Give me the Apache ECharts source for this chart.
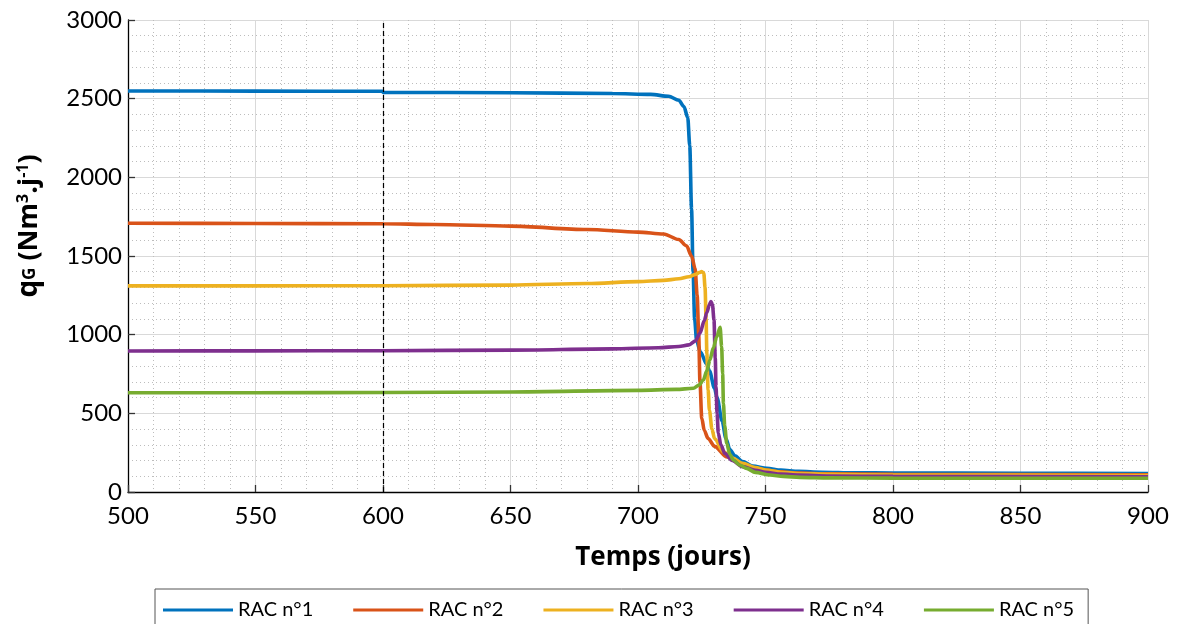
<!DOCTYPE html>
<html>
<head>
<meta charset="utf-8">
<script src="https://cdn.jsdelivr.net/npm/echarts@6/dist/echarts.min.js"></script>
<style>
  html, body { margin: 0; padding: 0; background: #fff; }
  #chart { width: 1181px; height: 624px; }
</style>
</head>
<body>
<div id="chart"></div>
<script>
// series names
const names = ['RAC n°1', 'RAC n°2', 'RAC n°3', 'RAC n°4', 'RAC n°5'];
const colors = ['#0072BD', '#D95319', '#EDB120', '#7E2F8E', '#77AC30'];

// RAC n°1
const days1 = [500, 550, 599.9, 600, 650, 690, 705, 712, 716, 718, 719.5, 720.3, 721, 721.6, 722.2, 723, 724.5, 727, 728, 730, 731, 733, 734.5, 736, 738, 741, 745, 750.5, 756, 763, 772, 785, 800, 850, 900];
const vals1 = [2549, 2548, 2547, 2540, 2538, 2533, 2527, 2515, 2490, 2450, 2380, 2200, 1800, 1400, 1100, 960, 890, 810, 770, 660, 600, 450, 340, 270, 230, 193, 165, 150, 139, 131, 126, 122, 121, 119, 118];

// RAC n°2
const days2 = [500, 550, 600, 620, 650, 680, 700, 710, 716, 719, 721, 722.4, 723.2, 723.8, 724.3, 725, 726, 727.5, 730, 735, 741, 746, 750, 756, 763, 775, 800, 900];
const vals2 = [1708, 1707, 1705, 1700, 1690, 1668, 1652, 1640, 1605, 1565, 1500, 1420, 1250, 1000, 700, 470, 390, 340, 290, 222, 172, 152, 140, 128, 120, 115, 112, 110];

// RAC n°3
const days3 = [500, 550, 600, 650, 680, 700, 710, 716, 720, 722.5, 724, 725, 725.8, 726.3, 726.7, 727, 727.5, 728, 729, 730, 733.5, 737, 741, 746, 750, 756, 763, 775, 800, 900];
const vals3 = [1310, 1310, 1311, 1315, 1325, 1337, 1345, 1355, 1368, 1382, 1395, 1401, 1390, 1300, 1100, 880, 650, 520, 400, 340, 256, 215, 182, 155, 140, 126, 118, 112, 108, 105];

// RAC n°4
const days4 = [500, 550, 600, 650, 690, 708, 716, 720, 722.5, 724.3, 726, 727, 728, 728.6, 729.2, 729.8, 730.3, 730.6, 731, 731.5, 732.5, 734, 737, 741, 746, 750, 756, 763, 775, 800, 900];
const vals4 = [896, 897, 898, 902, 910, 917, 925, 935, 960, 1009, 1090, 1140, 1190, 1210, 1190, 1093, 850, 670, 500, 373, 300, 246, 200, 161, 138, 125, 114, 108, 102, 99, 97];

// RAC n°5
const days5 = [500, 550, 600, 650, 700, 715, 721.7, 724, 725.6, 727, 728.2, 729.5, 730.9, 732.2, 732.8, 733.2, 733.5, 734, 734.8, 736, 737.4, 740, 742.6, 746, 751.8, 757, 763.5, 775, 800, 900];
const vals5 = [631, 631, 632, 636, 646, 652, 659, 680, 712, 770, 839, 915, 987, 1047, 924, 750, 564, 420, 310, 240, 203, 170, 150, 125, 108, 99, 93, 90, 88, 87];

// axes
const xMin = 500, xMax = 900, xStep = 50;
const yMin = 0, yMax = 3000, yStep = 500;
const markerDay = 600;

const allDays = [days1, days2, days3, days4, days5];
const allVals = [vals1, vals2, vals3, vals4, vals5];

const font = 'Lato, "Open Sans", sans-serif';
const boldFont = '"Open Sans", Lato, sans-serif';

const series = names.map((n, k) => {
  const s = {
    name: n,
    type: 'line',
    symbol: 'none',
    smooth: 0.3,
    smoothMonotone: 'x',
    lineStyle: { width: 3.6, color: colors[k] },
    itemStyle: { color: colors[k] },
    data: allDays[k].map((d, i) => [d, allVals[k][i]])
  };
  if (k === 0) {
    s.markLine = {
      silent: true,
      symbol: 'none',
      label: { show: false },
      lineStyle: { color: '#000', type: [5, 3], width: 1.2 },
      data: [{ xAxis: markerDay }]
    };
  }
  return s;
});

const chart = echarts.init(document.getElementById('chart'));
chart.setOption({
  animation: false,
  backgroundColor: '#fff',
  grid: { left: 128, right: 33, top: 20, bottom: 132 },
  legend: {
    data: names,
    left: 155,
    top: 589,
    icon: 'rect',
    itemWidth: 70,
    itemHeight: 3,
    itemGap: 40,
    padding: [11, 14, 14, 8],
    borderColor: '#555',
    borderWidth: 1,
    textStyle: { fontSize: 20, fontFamily: font, color: '#000' }
  },
  xAxis: {
    type: 'value',
    min: xMin, max: xMax, interval: xStep,
    name: 'Temps (jours)',
    nameLocation: 'middle',
    nameGap: 53,
    nameTextStyle: { fontSize: 26, fontWeight: 'bold', fontFamily: boldFont, color: '#000', padding: [0, 0, 0, 50] },
    axisLine: { lineStyle: { color: '#000', width: 1.3 } },
    axisTick: { inside: true, length: 7, lineStyle: { color: '#333', width: 1.3 } },
    axisLabel: { fontSize: 24, fontFamily: font, color: '#000', margin: 12 },
    splitLine: { show: true, lineStyle: { color: '#d9d9d9', width: 1 } },
    minorTick: { show: true, splitNumber: 5, length: 0 },
    minorSplitLine: { show: true, lineStyle: { color: '#bdbdbd', type: [1, 3], width: 1 } }
  },
  yAxis: {
    type: 'value',
    min: yMin, max: yMax, interval: yStep,
    name: '{q|q}{sub|G}{t| (Nm}{sup|3}{t|.j}{sup|-1}{t|)}',
    nameLocation: 'middle',
    nameGap: 82,
    nameTextStyle: {
      color: '#000',
      fontFamily: boldFont,
      fontWeight: 'bold',
      padding: [0, 0, 0, 60],
      rich: {
        q: { fontSize: 28, fontWeight: 'bold', fontFamily: boldFont, lineHeight: 34, verticalAlign: 'middle' },
        t: { fontSize: 27, fontWeight: 'bold', fontFamily: boldFont, lineHeight: 34, verticalAlign: 'middle' },
        sub: { fontSize: 17, fontWeight: 'bold', fontFamily: boldFont, lineHeight: 14, verticalAlign: 'bottom', padding: [0, 0, 7, 0] },
        sup: { fontSize: 16, fontWeight: 'bold', fontFamily: boldFont, lineHeight: 14, verticalAlign: 'top', padding: [3, 0, 0, 0] }
      }
    },
    axisLine: { show: true, lineStyle: { color: '#000', width: 1.3 } },
    axisTick: { show: true, inside: true, length: 7, lineStyle: { color: '#333', width: 1.3 } },
    axisLabel: { fontSize: 24, fontFamily: font, color: '#000', margin: 6, formatter: v => String(v) },
    splitLine: { show: true, lineStyle: { color: '#d9d9d9', width: 1 } },
    minorTick: { show: true, splitNumber: 5, length: 0 },
    minorSplitLine: { show: true, lineStyle: { color: '#bdbdbd', type: [1, 3], width: 1 } }
  },
  series: series
});
</script>
</body>
</html>
